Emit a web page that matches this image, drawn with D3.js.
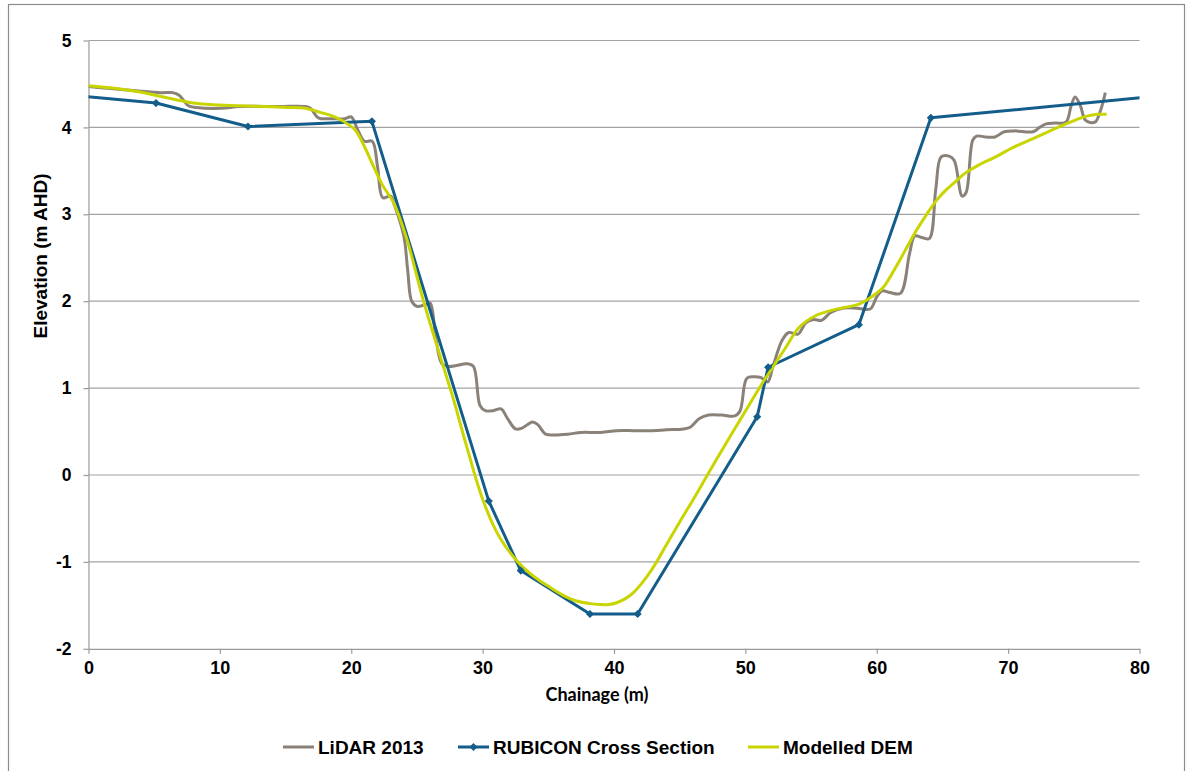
<!DOCTYPE html>
<html>
<head>
<meta charset="utf-8">
<script src="https://cdn.jsdelivr.net/npm/d3@7"></script>
<style>
  html, body { margin: 0; padding: 0; background: #ffffff; }
  svg { display: block; }
</style>
</head>
<body>
<svg id="chart" width="1189" height="771"></svg>
<script>
// Cross-section: chainage (m) vs elevation (m AHD)
const lidarChainage = [0, 1.5, 3.8, 5.5, 6.4, 6.9, 7.6, 8.2, 10.1, 11.5, 14.5, 16.5, 16.9, 17.5, 18.5, 19.5, 20.0, 20.5, 21.0, 21.6, 22.0, 22.4, 23.0, 23.3, 24.0, 24.3, 24.6, 25.0, 25.6, 26.0, 26.4, 26.9, 27.4, 28.0, 28.8, 29.3, 29.8, 30.2, 30.8, 31.4, 31.9, 32.5, 33.0, 33.8, 34.2, 34.8, 35.5, 36.5, 37.5, 39.0, 40.2, 41.5, 42.7, 44.0, 45.3, 45.8, 46.5, 47.2, 48.2, 49.2, 49.6, 50.1, 50.6, 51.2, 51.7, 52.1, 52.8, 53.3, 54.0, 54.6, 55.2, 55.8, 56.5, 57.4, 58.5, 59.5, 60.0, 60.4, 61.0, 61.8, 62.5, 62.9, 63.5, 64.0, 64.5, 64.9, 65.5, 65.9, 66.5, 66.8, 67.3, 67.6, 68.3, 69.0, 69.7, 70.5, 71.9, 72.4, 72.9, 73.6, 74.4, 74.8, 75.1, 75.5, 75.9, 76.6, 77.0, 77.4];
const lidarElevation = [4.47, 4.45, 4.42, 4.40, 4.40, 4.37, 4.25, 4.23, 4.22, 4.24, 4.24, 4.24, 4.22, 4.11, 4.10, 4.10, 4.12, 3.97, 3.84, 3.84, 3.55, 3.19, 3.21, 3.10, 2.75, 2.35, 2.00, 1.94, 1.96, 1.98, 1.62, 1.28, 1.25, 1.26, 1.28, 1.25, 0.80, 0.74, 0.74, 0.76, 0.65, 0.53, 0.54, 0.61, 0.58, 0.47, 0.46, 0.47, 0.49, 0.49, 0.51, 0.51, 0.51, 0.52, 0.53, 0.55, 0.65, 0.69, 0.69, 0.68, 0.74, 1.11, 1.13, 1.12, 1.07, 1.25, 1.55, 1.64, 1.62, 1.75, 1.79, 1.78, 1.87, 1.92, 1.92, 1.91, 2.05, 2.12, 2.10, 2.09, 2.55, 2.75, 2.73, 2.72, 3.30, 3.66, 3.67, 3.62, 3.21, 3.25, 3.85, 3.90, 3.89, 3.89, 3.95, 3.96, 3.95, 4.00, 4.04, 4.05, 4.06, 4.25, 4.35, 4.25, 4.08, 4.06, 4.18, 4.40];

// Surveyed section; first and last vertices lie beyond the 0–80 m window
const rubiconChainage = [-2, 5.14, 12.14, 21.57, 30.47, 32.9, 38.17, 41.8, 50.9, 51.73, 58.64, 64.12, 82];
const rubiconElevation = [4.38, 4.28, 4.01, 4.07, -0.30, -1.10, -1.60, -1.60, 0.67, 1.24, 1.73, 4.11, 4.37];

const demChainage = [0, 2, 3.8, 5.7, 7.6, 9.5, 11.4, 13.3, 15.2, 16.5, 17.7, 18.6, 19.4, 20.3, 21.0, 21.7, 22.4, 23.2, 24.2, 25.5, 26.7, 27.8, 28.8, 30.05, 31.3, 32.8, 34.0, 35.1, 36.2, 37.15, 38.2, 38.9, 39.6, 40.2, 40.9, 41.5, 42.2, 43.0, 44.0, 45.0, 46.0, 47.0, 48.0, 49.1, 50.1, 51.1, 52.0, 53.0, 54.1, 55.3, 56.7, 58.0, 58.7, 59.7, 60.5, 61.1, 61.75, 62.4, 63.0, 63.8, 64.55, 65.2, 65.8, 66.8, 67.8, 68.9, 70.4, 71.9, 73.2, 74.4, 75.2, 76.0, 76.8, 77.5];
const demElevation = [4.48, 4.45, 4.41, 4.35, 4.29, 4.26, 4.25, 4.24, 4.23, 4.22, 4.17, 4.13, 4.07, 3.97, 3.78, 3.55, 3.33, 3.14, 2.73, 2.00, 1.40, 0.86, 0.32, -0.30, -0.72, -1.02, -1.18, -1.29, -1.39, -1.45, -1.48, -1.49, -1.49, -1.47, -1.42, -1.35, -1.23, -1.06, -0.80, -0.54, -0.29, -0.03, 0.23, 0.51, 0.76, 1.01, 1.22, 1.45, 1.70, 1.83, 1.90, 1.94, 1.97, 2.06, 2.16, 2.30, 2.47, 2.65, 2.81, 3.00, 3.16, 3.27, 3.35, 3.48, 3.57, 3.65, 3.77, 3.87, 3.96, 4.04, 4.09, 4.13, 4.15, 4.15];

const xTicks = [0, 10, 20, 30, 40, 50, 60, 70, 80];
const yTicks = [-2, -1, 0, 1, 2, 3, 4, 5];

const seriesNames = ["LiDAR 2013", "RUBICON Cross Section", "Modelled DEM"];
const seriesColors = ["#8a8179", "#135d8a", "#c9d500"];

const svg = d3.select("#chart");
const W = 1189, H = 771;
const plot = { left: 88.5, right: 1139.5, top: 40.5, bottom: 648.8 };
const labelFont = "'Liberation Sans', Arial, sans-serif";
const plainNumber = d => String(d);

svg.append("rect").attr("x", 0).attr("y", 0).attr("width", W).attr("height", H).attr("fill", "#fff");
// outer chart frame
svg.append("rect").attr("x", 8.5).attr("y", 4.5).attr("width", 1176).attr("height", 780)
  .attr("fill", "none").attr("stroke", "#8c8c8c").attr("stroke-width", 1.2);

const x = d3.scaleLinear().domain([0, 80]).range([plot.left, plot.right]);
const y = d3.scaleLinear().domain([-2, 5]).range([plot.bottom, plot.top]);

// horizontal gridlines
svg.append("g").selectAll("line").data(yTicks.filter(v => v > -2)).join("line")
  .attr("x1", plot.left).attr("x2", plot.right)
  .attr("y1", d => y(d)).attr("y2", d => y(d))
  .attr("stroke", "#a3a3a3").attr("stroke-width", 1.2);

// axes
const yAxis = svg.append("g").attr("transform", `translate(${plot.left},0)`)
  .call(d3.axisLeft(y).tickValues(yTicks).tickFormat(plainNumber).tickSize(5).tickSizeOuter(0).tickPadding(12));
const xAxis = svg.append("g").attr("transform", `translate(0,${plot.bottom})`)
  .call(d3.axisBottom(x).tickValues(xTicks).tickFormat(plainNumber).tickSize(5).tickSizeOuter(0).tickPadding(7));
[yAxis, xAxis].forEach(g => {
  g.select(".domain").attr("stroke", "#9a9a9a").attr("stroke-width", 1.2);
  g.selectAll(".tick line").attr("stroke", "#9a9a9a").attr("stroke-width", 1.2);
  g.selectAll("text").attr("fill", "#000").attr("font-family", labelFont).attr("font-weight", "bold");
});
yAxis.selectAll("text").attr("font-size", 17.5);
xAxis.selectAll("text").attr("font-size", 18);

// axis titles
svg.append("text").attr("x", 597).attr("y", 701).attr("text-anchor", "middle")
  .attr("font-family", "Lato, 'Open Sans', sans-serif").attr("font-weight", "bold").attr("font-size", 18)
  .text("Chainage (m)");
svg.append("text").attr("transform", "translate(47,256) rotate(-90)").attr("text-anchor", "middle")
  .attr("font-family", labelFont).attr("font-weight", "bold").attr("font-size", 19)
  .text("Elevation (m AHD)");

// clip to plotting area
svg.append("clipPath").attr("id", "plotClip").append("rect")
  .attr("x", plot.left).attr("y", plot.top - 10).attr("width", plot.right - plot.left).attr("height", plot.bottom - plot.top + 10);

const layer = svg.append("g").attr("clip-path", "url(#plotClip)");

const zip = (xs, ys) => xs.map((v, i) => [v, ys[i]]);
const lidar = zip(lidarChainage, lidarElevation);
const rubicon = zip(rubiconChainage, rubiconElevation);
const dem = zip(demChainage, demElevation);

const smooth = d3.line().x(d => x(d[0])).y(d => y(d[1])).curve(d3.curveCatmullRom.alpha(0.5));
const straight = d3.line().x(d => x(d[0])).y(d => y(d[1]));

layer.append("path").attr("d", smooth(lidar)).attr("fill", "none")
  .attr("stroke", seriesColors[0]).attr("stroke-width", 3).attr("stroke-linejoin", "round");
layer.append("path").attr("d", straight(rubicon)).attr("fill", "none")
  .attr("stroke", seriesColors[1]).attr("stroke-width", 3).attr("stroke-linejoin", "round");
layer.append("path").attr("d", smooth(dem)).attr("fill", "none")
  .attr("stroke", seriesColors[2]).attr("stroke-width", 3).attr("stroke-linejoin", "round");

const diamond = d3.symbol().type(d3.symbolDiamond2).size(42);
layer.selectAll(".mk").data(rubicon.filter(d => d[0] >= 0 && d[0] <= 80)).join("path")
  .attr("transform", d => `translate(${x(d[0])},${y(d[1])})`)
  .attr("d", diamond).attr("fill", seriesColors[1]);

// legend
const legendItems = [
  { name: seriesNames[0], color: seriesColors[0], marker: false, x: 283 },
  { name: seriesNames[1], color: seriesColors[1], marker: true, x: 458 },
  { name: seriesNames[2], color: seriesColors[2], marker: false, x: 748 }
];
const lg = svg.append("g").selectAll("g").data(legendItems).join("g")
  .attr("transform", d => `translate(${d.x},747)`);
lg.append("line").attr("x1", 0).attr("x2", 31).attr("y1", 0).attr("y2", 0)
  .attr("stroke", d => d.color).attr("stroke-width", 3);
lg.filter(d => d.marker).append("path").attr("transform", "translate(15.5,0)")
  .attr("d", diamond).attr("fill", d => d.color);
lg.append("text").attr("x", 35).attr("y", 7)
  .attr("font-family", labelFont).attr("font-weight", "bold").attr("font-size", 19)
  .attr("fill", "#000").text(d => d.name);
</script>
</body>
</html>
